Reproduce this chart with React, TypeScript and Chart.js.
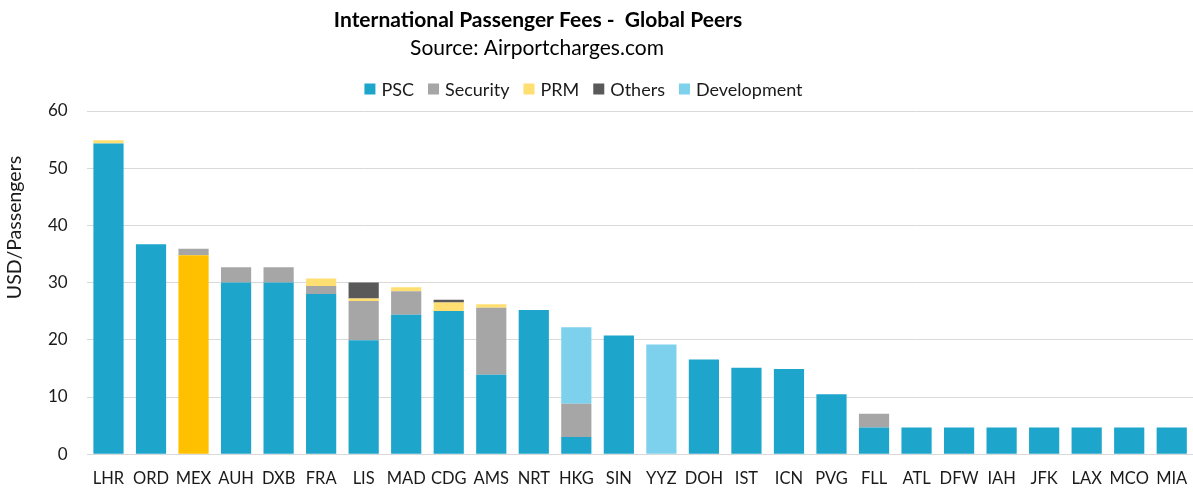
import React, { useEffect, useRef } from 'react';
import { Chart, registerables } from 'chart.js';

Chart.register(...registerables);

const categories = ['LHR', 'ORD', 'MEX', 'AUH', 'DXB', 'FRA', 'LIS', 'MAD', 'CDG', 'AMS', 'NRT', 'HKG', 'SIN', 'YYZ', 'DOH', 'IST', 'ICN', 'PVG', 'FLL', 'ATL', 'DFW', 'IAH', 'JFK', 'LAX', 'MCO', 'MIA'];
const psc = [54.3, 36.7, 34.8, 30.0, 30.0, 28.0, 19.9, 24.4, 25.05, 13.9, 25.2, 3.0, 20.75, 0, 16.55, 15.1, 14.9, 10.5, 4.67, 4.67, 4.67, 4.67, 4.67, 4.67, 4.67, 4.67];
const security = [0, 0, 1.1, 2.7, 2.7, 1.4, 6.9, 4.1, 0, 11.7, 0, 5.8, 0, 0, 0, 0, 0, 0, 2.4, 0, 0, 0, 0, 0, 0, 0];
const prm = [0.6, 0, 0, 0, 0, 1.3, 0.4, 0.7, 1.45, 0.6, 0, 0, 0, 0, 0, 0, 0, 0, 0, 0, 0, 0, 0, 0, 0, 0];
const others = [0, 0, 0, 0, 0, 0, 2.8, 0, 0.5, 0, 0, 0, 0, 0, 0, 0, 0, 0, 0, 0, 0, 0, 0, 0, 0, 0];
const development = [0, 0, 0, 0, 0, 0, 0, 0, 0, 0, 0, 13.4, 0, 19.2, 0, 0, 0, 0, 0, 0, 0, 0, 0, 0, 0, 0];

const seriesNames = ['PSC', 'Security', 'PRM', 'Others', 'Development'];
const seriesColors = ['#1EA5CB', '#A6A6A6', '#FFDF71', '#595959', '#7DD1EC'];
const highlightCategory = 'MEX';
const highlightColor = '#FFC000';

const yMin = 0;
const yMax = 60;
const yStep = 10;

const titleText = 'International Passenger Fees -  Global Peers';
const subtitleText = 'Source: Airportcharges.com';
const yAxisTitle = 'USD/Passengers';

const FONT = 'Lato, "Open Sans", sans-serif';
const TEXT_COLOR = '#1a1a1a';

const textPlugin = {
  id: 'excelText',
  afterDraw(chart: any) {
    const ctx = chart.ctx as CanvasRenderingContext2D;
    ctx.save();
    ctx.fillStyle = '#000';
    ctx.textAlign = 'center';
    ctx.textBaseline = 'middle';
    ctx.font = `bold 21px ${FONT}`;
    ctx.fillText(titleText, 538, 20);
    ctx.font = `21px ${FONT}`;
    ctx.fillText(subtitleText, 537, 48);

    // legend
    ctx.font = `18px ${FONT}`;
    ctx.textAlign = 'left';
    const box = 11;
    const gapText = 6;
    const gapItem = 14;
    const widths = seriesNames.map((n) => box + gapText + ctx.measureText(n).width);
    const total = widths.reduce((a, b) => a + b, 0) + gapItem * (widths.length - 1);
    let x = 583.5 - total / 2;
    const ly = 89;
    seriesNames.forEach((n, i) => {
      ctx.fillStyle = seriesColors[i];
      ctx.fillRect(x, ly - box / 2, box, box);
      ctx.fillStyle = TEXT_COLOR;
      ctx.fillText(n, x + box + gapText, ly + 1);
      x += widths[i] + gapItem;
    });

    // y axis title
    ctx.translate(15, 227.5);
    ctx.rotate(-Math.PI / 2);
    ctx.textAlign = 'center';
    ctx.font = `19.5px ${FONT}`;
    ctx.fillStyle = TEXT_COLOR;
    ctx.fillText(yAxisTitle, 0, 0);
    ctx.restore();
  },
};

export default function App() {
  const ref = useRef<HTMLCanvasElement | null>(null);

  useEffect(() => {
    if (!ref.current) return;
    const hi = categories.indexOf(highlightCategory);
    const seriesData = [psc, security, prm, others, development];
    const chart = new Chart(ref.current, {
      type: 'bar',
      data: {
        labels: categories,
        datasets: seriesNames.map((name, i) => ({
          label: name,
          data: seriesData[i],
          backgroundColor:
            i === 0
              ? (c: any) => (c.dataIndex === hi ? highlightColor : seriesColors[0])
              : seriesColors[i],
          borderWidth: 0,
          categoryPercentage: 1,
          barPercentage: 0.71,
        })),
      },
      options: {
        responsive: false,
        animation: false,
        layout: { padding: { top: 111, left: 28.5, right: 0, bottom: 2 } },
        plugins: {
          legend: { display: false },
          title: { display: false },
          tooltip: { enabled: false },
        },
        scales: {
          x: {
            stacked: true,
            grid: { display: false, drawTicks: true, tickLength: 15 },
            border: { display: true, color: '#d9d9d9', width: 1 },
            ticks: {
              autoSkip: false,
              maxRotation: 0,
              padding: 0,
              color: TEXT_COLOR,
              font: { family: FONT, size: 16.5 },
            },
          },
          y: {
            stacked: true,
            min: yMin,
            max: yMax,
            grid: { color: '#d9d9d9', drawTicks: false },
            border: { display: false },
            ticks: {
              stepSize: yStep,
              padding: 19.5,
              color: TEXT_COLOR,
              font: { family: FONT, size: 17 },
            },
          },
        },
      },
      plugins: [textPlugin],
    });
    return () => chart.destroy();
  }, []);

  return (
    <div style={{ position: 'fixed', left: 0, top: 0, width: 1193, height: 491, background: '#fff' }}>
      <canvas ref={ref} width={1193} height={491} />
    </div>
  );
}
